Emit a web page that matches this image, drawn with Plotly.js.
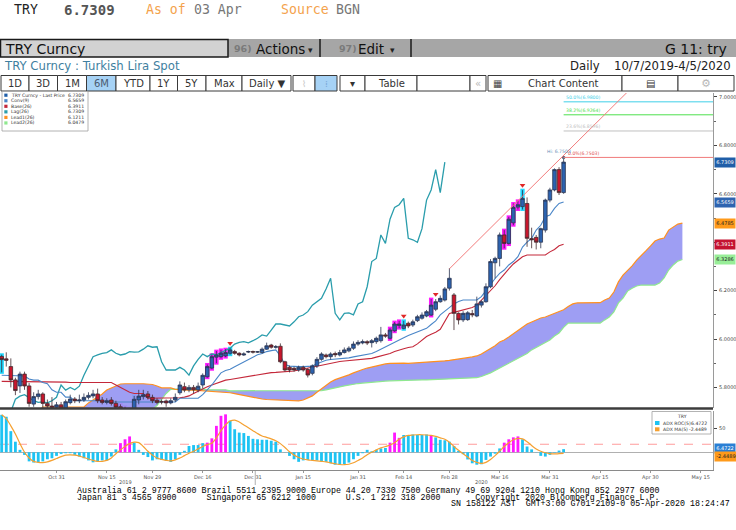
<!DOCTYPE html>
<html><head><meta charset="utf-8">
<script src="https://cdn.plot.ly/plotly-3.0.1.min.js"></script>
<style>html,body{margin:0;padding:0;background:#fff;}#chart{width:736px;height:530px;}</style>
</head><body><div id="chart"></div>
<script>
// ---------------- DATA ----------------
const dates = [
'2019-10-15','2019-10-16','2019-10-17','2019-10-18','2019-10-21','2019-10-22','2019-10-23','2019-10-24','2019-10-25','2019-10-28','2019-10-29','2019-10-30','2019-10-31',
'2019-11-01','2019-11-04','2019-11-05','2019-11-06','2019-11-07','2019-11-08','2019-11-11','2019-11-12','2019-11-13','2019-11-14','2019-11-15','2019-11-18','2019-11-19','2019-11-20','2019-11-21','2019-11-22','2019-11-25','2019-11-26','2019-11-27','2019-11-28','2019-11-29',
'2019-12-02','2019-12-03','2019-12-04','2019-12-05','2019-12-06','2019-12-09','2019-12-10','2019-12-11','2019-12-12','2019-12-13','2019-12-16','2019-12-17','2019-12-18','2019-12-19','2019-12-20','2019-12-23','2019-12-24','2019-12-25','2019-12-26','2019-12-27','2019-12-30','2019-12-31',
'2020-01-01','2020-01-02','2020-01-03','2020-01-06','2020-01-07','2020-01-08','2020-01-09','2020-01-10','2020-01-13','2020-01-14','2020-01-15','2020-01-16','2020-01-17','2020-01-20','2020-01-21','2020-01-22','2020-01-23','2020-01-24','2020-01-27','2020-01-28','2020-01-29','2020-01-30','2020-01-31',
'2020-02-03','2020-02-04','2020-02-05','2020-02-06','2020-02-07','2020-02-10','2020-02-11','2020-02-12','2020-02-13','2020-02-14','2020-02-17','2020-02-18','2020-02-19','2020-02-20','2020-02-21','2020-02-24','2020-02-25','2020-02-26','2020-02-27','2020-02-28',
'2020-03-02','2020-03-03','2020-03-04','2020-03-05','2020-03-06','2020-03-09','2020-03-10','2020-03-11','2020-03-12','2020-03-13','2020-03-16','2020-03-17','2020-03-18','2020-03-19','2020-03-20','2020-03-23','2020-03-24','2020-03-25','2020-03-26','2020-03-27','2020-03-30','2020-03-31',
'2020-04-01','2020-04-02','2020-04-03'];
const futureDates = ['2020-04-06','2020-04-07','2020-04-08','2020-04-09','2020-04-10','2020-04-13','2020-04-14','2020-04-15','2020-04-16','2020-04-17','2020-04-20','2020-04-21','2020-04-22','2020-04-23','2020-04-24','2020-04-27','2020-04-28','2020-04-29','2020-04-30','2020-05-01','2020-05-04','2020-05-05','2020-05-06','2020-05-07','2020-05-08','2020-05-11'];

const open = [
5.928,5.918,5.886,5.831,5.806,5.855,5.806,5.731,5.762,5.773,
5.734,5.723,5.718,5.728,5.715,5.737,5.752,5.745,5.748,5.759,
5.765,5.773,5.748,5.738,5.748,5.734,5.720,5.712,5.706,5.710,
5.748,5.762,5.773,5.759,5.747,5.741,5.744,5.736,5.748,5.778,
5.803,5.790,5.800,5.790,5.810,5.844,5.880,5.925,5.927,5.930,
5.941,5.948,5.941,5.934,5.946,5.948,5.946,5.944,5.958,5.975,
5.966,5.970,5.906,5.883,5.879,5.872,5.883,5.874,5.858,5.889,
5.916,5.934,5.927,5.940,5.934,5.944,5.951,5.962,5.979,5.984,
5.989,5.985,5.989,5.993,6.017,6.003,6.034,6.056,6.044,6.065,
6.058,6.076,6.086,6.095,6.099,6.123,6.154,6.161,6.210,6.182,
6.106,6.079,6.080,6.105,6.095,6.140,6.154,6.216,6.315,6.333,
6.430,6.395,6.480,6.545,6.547,6.560,6.415,6.420,6.400,6.450,
6.574,6.616,6.700,6.605];
const high = [
5.935,5.945,5.920,5.840,5.865,5.865,5.818,5.780,5.790,5.780,
5.750,5.760,5.740,5.740,5.750,5.770,5.760,5.770,5.775,5.780,
5.790,5.795,5.760,5.755,5.760,5.745,5.730,5.720,5.715,5.765,
5.790,5.790,5.785,5.770,5.755,5.750,5.750,5.755,5.775,5.825,
5.820,5.810,5.810,5.820,5.858,5.895,5.935,5.950,5.955,5.958,
5.962,5.955,5.945,5.945,5.952,5.952,5.950,5.965,5.985,5.980,
5.975,5.982,5.910,5.890,5.885,5.890,5.890,5.880,5.895,5.925,
5.945,5.940,5.945,5.948,5.955,5.965,5.970,5.990,5.995,5.998,
5.995,6.000,6.010,6.050,6.025,6.045,6.070,6.075,6.075,6.072,
6.080,6.100,6.110,6.120,6.165,6.165,6.180,6.215,6.293,6.190,
6.110,6.115,6.115,6.120,6.175,6.160,6.230,6.330,6.340,6.440,
6.450,6.505,6.560,6.571,6.615,6.585,6.460,6.430,6.460,6.580,
6.625,6.705,6.710,6.7503];
const low = [
5.862,5.886,5.800,5.768,5.777,5.790,5.720,5.720,5.750,5.716,
5.710,5.705,5.705,5.700,5.710,5.730,5.735,5.735,5.740,5.750,
5.755,5.735,5.730,5.730,5.725,5.710,5.700,5.690,5.685,5.695,
5.730,5.750,5.750,5.735,5.730,5.730,5.720,5.730,5.740,5.770,
5.780,5.780,5.775,5.780,5.796,5.840,5.875,5.900,5.920,5.925,
5.935,5.935,5.928,5.930,5.942,5.940,5.943,5.940,5.955,5.960,
5.960,5.900,5.865,5.862,5.865,5.865,5.865,5.841,5.850,5.880,
5.910,5.920,5.915,5.925,5.928,5.940,5.945,5.955,5.972,5.978,
5.975,5.965,5.980,5.985,6.005,5.998,6.030,6.045,6.040,6.045,
6.050,6.070,6.080,6.090,6.095,6.115,6.150,6.155,6.200,6.037,
6.060,6.070,6.075,6.090,6.090,6.130,6.150,6.210,6.250,6.300,
6.375,6.390,6.470,6.535,6.535,6.381,6.375,6.370,6.375,6.440,
6.565,6.610,6.595,6.600];
const close = [
5.915,5.912,5.831,5.787,5.855,5.806,5.734,5.762,5.773,5.734,
5.723,5.718,5.728,5.715,5.741,5.752,5.745,5.748,5.759,5.767,
5.773,5.745,5.738,5.745,5.734,5.718,5.712,5.706,5.700,5.751,
5.764,5.770,5.759,5.745,5.738,5.740,5.736,5.745,5.759,5.810,
5.789,5.800,5.790,5.805,5.850,5.886,5.927,5.934,5.941,5.944,
5.955,5.941,5.934,5.938,5.948,5.946,5.947,5.958,5.972,5.966,
5.968,5.906,5.872,5.872,5.872,5.883,5.872,5.851,5.889,5.916,
5.938,5.927,5.938,5.935,5.944,5.955,5.962,5.979,5.986,5.989,
5.984,5.993,6.003,6.017,6.012,6.037,6.062,6.062,6.058,6.054,
6.071,6.092,6.099,6.113,6.140,6.154,6.168,6.207,6.251,6.106,
6.079,6.106,6.108,6.100,6.145,6.154,6.216,6.320,6.333,6.430,
6.395,6.495,6.544,6.555,6.581,6.416,6.410,6.400,6.456,6.574,
6.616,6.700,6.605,6.7309];

// Ichimoku lines
const conv = [
5.850,5.850,5.850,5.850,5.850,5.847,5.835,5.830,5.830,5.820,
5.815,5.790,5.780,5.780,5.760,5.760,5.745,5.745,5.745,5.745,
5.745,5.745,5.745,5.740,5.740,5.740,5.740,5.740,5.740,5.740,
5.740,5.740,5.740,5.740,5.740,5.740,5.740,5.740,5.740,5.755,
5.755,5.755,5.755,5.755,5.770,5.790,5.810,5.835,5.860,5.870,
5.875,5.885,5.895,5.905,5.912,5.925,5.935,5.940,5.948,5.952,
5.955,5.930,5.895,5.888,5.886,5.886,5.886,5.886,5.888,5.898,
5.905,5.912,5.915,5.916,5.917,5.918,5.922,5.926,5.930,5.933,
5.937,5.940,5.948,5.958,5.968,5.978,5.987,5.996,6.005,6.014,
6.022,6.030,6.038,6.044,6.060,6.075,6.100,6.115,6.130,6.145,
6.155,6.161,6.161,6.161,6.161,6.175,6.200,6.230,6.250,6.271,
6.285,6.306,6.320,6.340,6.380,6.400,6.416,6.450,6.470,6.505,
6.512,6.540,6.560,6.5659];
const base = [
5.825,5.825,5.825,5.825,5.825,5.825,5.825,5.825,5.825,5.825,
5.822,5.822,5.822,5.822,5.822,5.820,5.820,5.820,5.820,5.820,
5.820,5.820,5.820,5.820,5.820,5.810,5.800,5.790,5.780,5.775,
5.775,5.775,5.755,5.755,5.755,5.755,5.755,5.755,5.755,5.757,
5.760,5.765,5.775,5.785,5.795,5.803,5.810,5.817,5.824,5.830,
5.833,5.836,5.839,5.842,5.845,5.848,5.852,5.856,5.860,5.861,
5.862,5.863,5.864,5.865,5.868,5.872,5.876,5.880,5.883,5.886,
5.890,5.895,5.900,5.905,5.907,5.909,5.911,5.912,5.913,5.914,
5.916,5.920,5.925,5.930,5.934,5.940,5.948,5.955,5.960,5.965,
5.968,5.980,5.995,6.010,6.020,6.028,6.040,6.070,6.105,6.110,
6.115,6.120,6.125,6.130,6.140,6.160,6.180,6.200,6.220,6.245,
6.270,6.290,6.310,6.326,6.340,6.347,6.347,6.347,6.347,6.347,
6.360,6.370,6.385,6.3911];
const lead1 = [
5.700,5.700,5.700,5.700,5.700,5.700,5.700,5.700,5.700,5.719,
5.719,5.719,5.719,5.719,5.719,5.719,5.719,5.719,5.719,5.736,
5.748,5.760,5.773,5.789,5.798,5.806,5.814,5.815,5.816,5.816,
5.815,5.815,5.814,5.812,5.806,5.798,5.798,5.798,5.792,5.790,
5.790,5.789,5.789,5.788,5.786,5.783,5.782,5.781,5.781,5.780,
5.778,5.774,5.770,5.767,5.765,5.760,5.755,5.752,5.750,5.749,
5.748,5.746,5.745,5.744,5.742,5.744,5.748,5.755,5.765,5.780,
5.795,5.810,5.822,5.832,5.838,5.845,5.852,5.860,5.868,5.874,
5.880,5.885,5.890,5.894,5.897,5.899,5.900,5.900,5.900,5.899,
5.900,5.902,5.904,5.905,5.906,5.907,5.908,5.910,5.912,5.914,
5.916,5.920,5.923,5.926,5.930,5.938,5.950,5.962,5.972,5.988,
5.996,6.008,6.021,6.037,6.050,6.062,6.070,6.079,6.087,6.091,
6.099,6.105,6.113,6.1211,6.134,6.145,6.149,6.149,6.149,6.149,
6.149,6.150,6.161,6.169,6.194,6.236,6.264,6.281,6.302,6.326,
6.343,6.364,6.384,6.405,6.413,6.417,6.450,6.463,6.475,6.4785];
const lead2 = [
5.690,5.690,5.690,5.690,5.690,5.690,5.690,5.690,5.690,5.690,
5.690,5.690,5.690,5.690,5.690,5.690,5.690,5.690,5.690,5.690,
5.690,5.690,5.690,5.690,5.690,5.690,5.690,5.690,5.690,5.690,
5.690,5.695,5.700,5.710,5.725,5.750,5.775,5.792,5.794,5.795,
5.795,5.795,5.795,5.795,5.793,5.790,5.790,5.790,5.790,5.790,
5.786,5.786,5.786,5.786,5.786,5.786,5.786,5.786,5.786,5.786,
5.785,5.785,5.785,5.785,5.785,5.785,5.785,5.785,5.785,5.785,
5.787,5.790,5.795,5.798,5.802,5.806,5.810,5.813,5.816,5.818,
5.820,5.822,5.824,5.825,5.826,5.827,5.828,5.828,5.829,5.830,
5.830,5.830,5.831,5.831,5.832,5.832,5.833,5.833,5.834,5.835,
5.836,5.837,5.838,5.839,5.840,5.845,5.852,5.860,5.870,5.880,
5.890,5.900,5.910,5.920,5.930,5.940,5.955,5.965,5.975,5.985,
5.996,6.012,6.025,6.0479,6.066,6.066,6.066,6.066,6.066,6.066,
6.066,6.066,6.079,6.091,6.112,6.149,6.169,6.198,6.210,6.219,
6.223,6.223,6.223,6.223,6.231,6.252,6.285,6.306,6.322,6.3286];

// Lower panel: ADX ROC(5) and its MA(5)
const rocValues = [
78,74,44,22,5,-5.6,-19,-21.5,-21.5,-19,
-14.6,-12.5,-7.6,-3.5,-2,-2,-5.5,-9,-12.5,-17,
-21,-19,-17,-17,-9,6,19,27,33,20,
5,-5.5,-10,-17,-14.6,-16,-18,-20,-14.6,-5.5,
3,13,15,15,19,20,29,55,76,79,
66,48,41,40,34,28,27,26,26,24,
22,6,0.5,-7.6,-14.6,-20,-17,-16,-17,-17,
-19,-20,-23,-26,-26,-25,-21.5,-14.6,-7.6,-2,
5,2,5,8,9,20,41,30,36,36,
37,36,36,37,36,31,26,25,22,13,
3,-4,-15,-23,-26,-25,-16,-9,-3,8,
20,27,31,33,27,12,6,0.5,-7.5,-9,
-5.5,-1,3.5,6.4722];
const rocMA = [
78,70,55,38,18,0,-12,-19,-21,-21.5,
-20,-17,-13,-9,-6,-5.5,-6,-8,-11,-14,
-17,-19,-19,-17,-12,-3,5,12,18,21,
20,12,2,-6,-12,-15,-17,-18,-16,-12,
-7,-2,2,7,12,16,19,30,45,57,
65,67,63,57,51,45,39,34,31,28,
24,18,10,1,-6,-11,-14,-16,-17,-18,
-19,-20,-22,-24,-25.5,-26,-25,-22,-17,-12,
-5,0,5,9,12,15,20,27,32,35,
36,36.5,36.5,36,35,33,30,27,21,12,
4,-3,-10,-17,-21,-23,-21,-15,-7,2,
12,20,26,29,28,22,14,7,2,-1,
-3,-3.5,-3,-2.4489];
const rocThreshold = 16.7;

// Signal days (highlighted candles / histogram bars)
const magentaDates = ['2019-11-20','2019-11-21','2019-11-22','2019-12-17','2019-12-18','2019-12-19','2019-12-20','2019-12-23','2020-02-11','2020-02-12','2020-02-13','2020-02-24','2020-03-17','2020-03-18','2020-03-19','2020-03-20'];
const cyanDates = ['2019-10-15','2019-11-25','2019-12-24','2020-02-14','2020-03-23'];
const markerDates = ['2019-12-24','2020-02-14','2020-02-25','2020-03-23'];

// Fibonacci levels and trend line
const fibPct = ['50.0%','38.2%','23.6%','0.0%'];
const fibLevels = [6.9800, 6.9264, 6.8596, 6.7503];
const trendDates = ['2020-02-28','2020-04-24'];
const trendValues = [6.29, 7.04];

// Axis labels
const xTickDates = ['2019-10-31','2019-11-15','2019-11-29','2019-12-16','2019-12-31','2020-01-15','2020-01-31','2020-02-14','2020-02-28','2020-03-16','2020-03-31','2020-04-15','2020-04-30','2020-05-15'];
const xTickLabels = ['Oct 31','Nov 15','Nov 29','Dec 16','Dec 31','Jan 15','Jan 31','Feb 14','Feb 28','Mar 16','Mar 31','Apr 15','Apr 30','May 15'];
const yTickVals = [5.8,6.0,6.2,6.4,6.6,6.8,7.0];
const yMinorVals = [5.9,6.1,6.3,6.5,6.7,6.9];
const legendNames = ['TRY Curncy - Last Price','Conv(9)','Base(26)','Lag(26)','Lead1(26)','Lead2(26)'];

// ---------------- BUILD ----------------
const N = dates.length;
const last = N - 1;
const DAY = 86400000;
const noon = d => d + ' 12:00';
const xs = dates.map(noon);
const cloudX = dates.concat(futureDates).map(noon);
const P = x => x / 736, Q = y => 1 - y / 530;

const C = {
  up:'#2c63b0', down:'#c8162c', conv:'#4a86c8', base:'#c4283a', lag:'#2a9dac',
  lead1:'#ff9020', lead2:'#8fe88f', cloud:'rgba(150,150,242,0.92)', mag:'#ff18ff', cyan:'#22d8ff', hist:'#1ec3f3', ma:'#f5a030'
};

const traces = [];
const hlDates = magentaDates.concat(cyanDates);
const hlIdx = hlDates.map(d => dates.indexOf(d));
traces.push({type:'bar', x: hlIdx.map(i => xs[i]), base: hlIdx.map(i => low[i] - 0.006),
  y: hlIdx.map(i => high[i] - low[i] + 0.012), width: 0.95 * DAY,
  marker:{color: hlDates.map(d => magentaDates.includes(d) ? C.mag : C.cyan), line:{width:0}},
  xaxis:'x', yaxis:'y', hoverinfo:'skip'});
traces.push({type:'scatter', mode:'lines', x: cloudX, y: lead2, line:{color:C.lead2, width:1.2}, xaxis:'x', yaxis:'y', hoverinfo:'skip'});
traces.push({type:'scatter', mode:'lines', x: cloudX, y: lead1, line:{color:C.lead1, width:1.2}, fill:'tonexty', fillcolor:C.cloud, xaxis:'x', yaxis:'y', hoverinfo:'skip'});
traces.push({type:'scatter', mode:'lines', x: xs.slice(0, N - 26), y: close.slice(26), line:{color:C.lag, width:1.3}, xaxis:'x', yaxis:'y', hoverinfo:'skip'});
traces.push({type:'scatter', mode:'lines', x: xs, y: base, line:{color:C.base, width:1.1}, xaxis:'x', yaxis:'y', hoverinfo:'skip'});
traces.push({type:'scatter', mode:'lines', x: xs, y: conv, line:{color:C.conv, width:1.1}, xaxis:'x', yaxis:'y', hoverinfo:'skip'});
traces.push({type:'candlestick', x: xs, open, high, low, close, xaxis:'x', yaxis:'y3', whiskerwidth:0,
  increasing:{line:{color:'#2b3550', width:0.8}, fillcolor:C.up},
  decreasing:{line:{color:'#402a2e', width:0.8}, fillcolor:C.down}, hoverinfo:'skip'});
const mIdx = markerDates.map(d => dates.indexOf(d));
traces.push({type:'scatter', mode:'markers', x: mIdx.map(i => xs[i]), y: mIdx.map(i => high[i] + 0.02),
  marker:{symbol:'triangle-down', size:5, color:'#e02828'}, xaxis:'x', yaxis:'y3', hoverinfo:'skip'});
traces.push({type:'scatter', mode:'markers', x:[xs[last]], y:[high[last]], marker:{symbol:'circle', size:3.5, color:'#5a6a80'}, xaxis:'x', yaxis:'y3', hoverinfo:'skip'});
traces.push({type:'bar', x: xs, y: rocValues, width: 0.62 * DAY, marker:{color: dates.map(d => magentaDates.includes(d) ? C.mag : C.hist), line:{width:0}}, xaxis:'x', yaxis:'y2', hoverinfo:'skip'});
traces.push({type:'scatter', mode:'lines', x: xs, y: rocMA, line:{color:C.ma, width:1.2, shape:'spline', smoothing:1}, xaxis:'x', yaxis:'y2', hoverinfo:'skip'});

const shapes = [];
const annotations = [];
function rect(x0, y0, x1, y1, fill, line, lw) {
  shapes.push({type:'rect', xref:'paper', yref:'paper', x0:P(x0), x1:P(x1), y0:Q(y0), y1:Q(y1), fillcolor:fill, line:{color: line || 'rgba(0,0,0,0)', width: lw || 0}, layer:'above'});
}
function pline(x0, y0, x1, y1, color, w) {
  shapes.push({type:'line', xref:'paper', yref:'paper', x0:P(x0), x1:P(x1), y0:Q(y0), y1:Q(y1), line:{color, width:w}, layer:'above'});
}
function txt(text, x, y, size, color, family, xanchor) {
  annotations.push({text, x:P(x), y:Q(y), xref:'paper', yref:'paper', xanchor: xanchor || 'left', yanchor:'middle', showarrow:false,
    font:{family: family || 'DejaVu Sans', size, color}});
}

// ---- header ----
const mono = 'DejaVu Sans Mono';
txt('TRY', 12, 10, 13.2, '#222', mono);
txt('<b>6.7309</b>', 62, 10, 14, '#555', mono);
txt('As of', 144, 10, 13.2, '#f4a24c', mono);
txt('03 Apr', 192, 10, 13.2, '#777', mono);
txt('Source', 279, 10, 13.2, '#f4a24c', mono);
txt('BGN', 334, 10, 13.2, '#777', mono);

rect(0, 39, 736, 57, '#a6a6a6');
rect(0.5, 39.5, 228, 57, '#d2d2d2', '#1a1a1a', 1.5);
pline(320, 39, 320, 57, '#1a1a1a', 1.5);
pline(411, 39, 411, 57, '#1a1a1a', 1.5);
txt('TRY Curncy', 3, 48.5, 14, '#111');
txt('<b>96)</b>', 232, 48.5, 9.5, '#7a7a7a');
txt('Actions', 254, 48.5, 13.5, '#111');
txt('▾', 306, 49.5, 9, '#222');
txt('<b>97)</b>', 337, 48.5, 9.5, '#7a7a7a');
txt('Edit', 356, 48.5, 13.5, '#111');
txt('▾', 388, 49.5, 9, '#222');
txt('G 11: try', 663, 48.5, 14, '#111');

txt('TRY Curncy : Turkish Lira Spot', 2, 66, 11.7, '#3f7f9f');
txt('Daily', 568, 66, 11.7, '#222');
txt('10/7/2019-4/5/2020', 612, 66, 11.7, '#222');

const buttons = [
  [1, 29, '1D'], [29, 57.5, '3D'], [57.5, 86.5, '1M'], [86.5, 116, '6M', true], [116, 150, 'YTD'],
  [150, 177.5, '1Y'], [177.5, 206, '5Y'], [206, 242, 'Max'], [242, 291, 'Daily <b>▼</b>'],
  [293, 315, ''], [315, 337, '', true], [340, 365, '▾'], [365, 417, 'Table'], [417, 470, ''],
  [470, 486, '«'], [488, 622, 'Chart Content'], [622, 678, '▤'], [678, 734, '⚙']
];
buttons.forEach(b => {
  rect(b[0], 75.5, b[1], 91, b[3] ? '#a6d2f5' : '#ffffff', '#3a3a3a', 1);
  if (b[2]) {
    let col = '#333';
    if (b[2] === '«' || b[2] === '⚙') col = '#b8b8b8';
    if (b[3]) col = '#4a5a70';
    txt(b[2], (b[0] + b[1]) / 2 + (b[2] === 'Chart Content' ? 8 : 0), 83.5, b[2] === '⚙' ? 11 : 10, col, 'DejaVu Sans', 'center');
  }
});
txt('▦', 497, 83.5, 10, '#444', 'DejaVu Sans', 'center');
txt('⌇', 304, 83.5, 9, '#c8c8c8', 'DejaVu Sans', 'center');
txt('⁞', 326, 83.5, 9, '#7aa8d8', 'DejaVu Sans', 'center');

// ---- main legend ----
const legendVals = [close[last], conv[last], base[last], close[last], lead1[N - 1], lead2[N - 1]];
const legendCols = ['#1f5ea8', C.conv, C.base, C.lag, C.lead1, C.lead2];
rect(2, 91.5, 88, 131, '#ffffff', '#a0a0a0', 0.8);
legendNames.forEach((nm, k) => {
  const yy = 95.2 + k * 5.55;
  rect(4.3, yy - 1.6, 7.5, yy + 1.6, legendCols[k]);
  txt(nm, 9, yy, 4.6, '#333');
  txt(legendVals[k].toFixed(4), 86, yy, 4.6, '#333', 'DejaVu Sans', 'right');
});

// ---- lower legend ----
rect(652, 411.5, 711, 434, '#ffffff', '#a0a0a0', 0.8);
txt('TRY', 681.5, 416.3, 4.6, '#333', 'DejaVu Sans', 'center');
rect(655, 421, 659.5, 425, C.hist);
txt('ADX ROC(5)', 661, 423, 4.6, '#333');
txt(rocValues[last].toFixed(4), 709, 423, 4.6, '#333', 'DejaVu Sans', 'right');
rect(655, 427.3, 659.5, 431.3, C.ma);
txt('ADX MA(5)', 661, 429.3, 4.6, '#333');
txt(rocMA[last].toFixed(4), 709, 429.3, 4.6, '#333', 'DejaVu Sans', 'right');

// ---- value tags on the right axes ----
function tag(val, yref, bg, fg, yshift) {
  annotations.push({xref:'paper', x:P(713.5), xanchor:'left', yref, y:val, yanchor:'middle', yshift: yshift || 0,
    text: val.toFixed(4), bgcolor:bg, font:{size:5, color:fg, family:'DejaVu Sans'}, borderpad:1.3, showarrow:false});
}
tag(close[last], 'y', '#1f5ea8', '#fff');
tag(conv[last], 'y', '#2e64b0', '#fff');
tag(lead1[lead1.length - 1], 'y', '#ff9a1a', '#222');
tag(base[last], 'y', '#c41230', '#fff');
tag(lead2[lead2.length - 1], 'y', '#98ee98', '#222');
tag(rocValues[last], 'y2', '#2a7fd4', '#fff', 1);
tag(rocMA[last], 'y2', '#ff9a1a', '#222', -3);

// ---- fib + trend line ----
const fibCols = ['#3fcfe8', '#4ee04e', '#c0c0c0', '#f07a7a'];
fibLevels.forEach((lv, k) => {
  shapes.push({type:'line', xref:'x', yref:'y', x0: noon(dates[last]), x1:'2020-06-01', y0:lv, y1:lv, line:{color:fibCols[k], width:1}, layer:'above'});
  annotations.push({xref:'x', yref:'y', x: noon(dates[last]), y: lv, xanchor:'left', yanchor:'bottom', xshift: k === 3 ? 2 : 0, yshift:-0.5,
    text: fibPct[k] + '(' + lv.toFixed(4) + ')', showarrow:false, font:{size:4.6, color: k === 3 ? '#e05050' : fibCols[k], family:'DejaVu Sans'}});
});
annotations.push({xref:'x', yref:'y', x: noon(dates[last]), y: high[last], xanchor:'right', yanchor:'bottom', xshift:9, yshift:1,
  text:'Hi: ' + high[last].toFixed(4), showarrow:false, font:{size:4.6, color:'#6a8fb8', family:'DejaVu Sans'}});
shapes.push({type:'line', xref:'x', yref:'y', x0: noon(trendDates[0]), x1: noon(trendDates[1]), y0: trendValues[0], y1: trendValues[1], line:{color:'#f27c7c', width:1}, layer:'above'});

// ---- panel frame ----
pline(0, 408.5, 713, 408.5, '#3c3c3c', 2.5);
shapes.push({type:'line', xref:'paper', yref:'y2', x0:0, x1:P(713), y0:rocThreshold, y1:rocThreshold, line:{color:'#ff9c9c', width:1.2, dash:'dash'}, layer:'below'});
shapes.push({type:'line', xref:'x', yref:'paper', x0:'2020-01-01 00:00', x1:'2020-01-01 00:00', y0:Q(471), y1:Q(485), line:{color:'#b0b0b0', width:1}});
annotations.push({xref:'x', yref:'paper', x: noon('2019-11-21'), y: Q(482), yanchor:'middle', text:'2019', showarrow:false, font:{size:5, color:'#555', family:'DejaVu Sans'}});
annotations.push({xref:'x', yref:'paper', x: noon('2020-03-10'), y: Q(482), yanchor:'middle', text:'2020', showarrow:false, font:{size:5, color:'#555', family:'DejaVu Sans'}});

// ---- footer ----
const nb = s => s.replace(/ /g, '\u00a0');
txt(nb('Australia 61 2 9777 8600 Brazil 5511 2395 9000 Europe 44 20 7330 7500 Germany 49 69 9204 1210 Hong Kong 852 2977 6000'), 75, 490.5, 8.3, '#000', 'Liberation Mono');
txt(nb('Japan 81 3 4565 8900      Singapore 65 6212 1000      U.S. 1 212 318 2000       Copyright 2020 Bloomberg Finance L.P.'), 75, 497, 8.3, '#000', 'Liberation Mono');
txt(nb('SN 158122 AST  GMT+3:00 G701-2109-0 05-Apr-2020 18:24:47'), 448.5, 503.3, 8.3, '#000', 'Liberation Mono');

const yRange = [5.7149, 7.0165];
const layout = {
  width:736, height:530, margin:{l:0, r:0, t:0, b:0}, paper_bgcolor:'#fff', plot_bgcolor:'#fff',
  showlegend:false, boxgap:0.22, boxgroupgap:0, barmode:'overlay', font:{family:'DejaVu Sans'},
  xaxis:{domain:[0, 713/736], anchor:'y2', type:'date', range:['2019-10-15 03:07', '2020-05-20 04:48'],
    rangebreaks:[{bounds:['sat','mon']}], tickvals: xTickDates.map(noon), ticktext: xTickLabels,
    tickfont:{size:5, color:'#555'}, ticks:'outside', ticklen:2, tickcolor:'#999', showgrid:false, zeroline:false,
    showline:true, linecolor:'#8a8a8a', linewidth:1, rangeslider:{visible:false}},
  yaxis:{domain:[1 - 408/530, 1 - 93/530], range:yRange, side:'right', anchor:'x', showgrid:false, zeroline:false,
    showline:true, linecolor:'#9a9a9a', linewidth:1, ticks:'outside', ticklen:3, tickcolor:'#444',
    tickvals:yTickVals, ticktext: yTickVals.map(v => Math.abs(v - 6.4) < 1e-9 ? '' : v.toFixed(4)),
    tickfont:{size:5, color:'#444'}, ticklabelstandoff:1,
    minor:{tickvals:yMinorVals, ticks:'outside', ticklen:2, tickcolor:'#666'}},
  yaxis3:{overlaying:'y', anchor:'x', range:yRange, visible:false, showgrid:false, zeroline:false},
  yaxis2:{domain:[1 - 470/530, 1 - 411/530], range:[-37, 86], side:'right', anchor:'x', showgrid:false,
    zeroline:true, zerolinecolor:'#b0b0b0', zerolinewidth:1, showline:true, linecolor:'#9a9a9a', linewidth:1,
    ticks:'outside', ticklen:3, tickcolor:'#444', tickvals:[50], ticktext:['50'], tickfont:{size:5, color:'#444'}, ticklabelstandoff:1},
  shapes, annotations
};
Plotly.newPlot('chart', traces, layout, {displayModeBar:false, staticPlot:true});
</script></body></html>
